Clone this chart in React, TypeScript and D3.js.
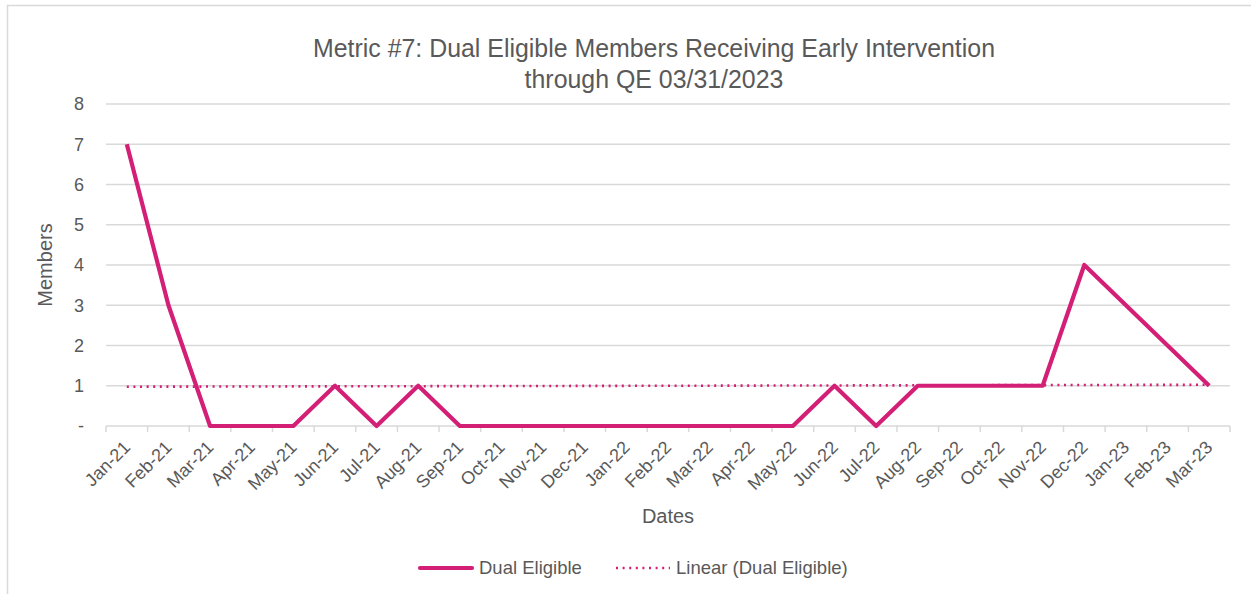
import React from 'react';
import * as d3 from 'd3';

// Monthly counts
const months = [
  'Jan-21', 'Feb-21', 'Mar-21', 'Apr-21', 'May-21', 'Jun-21', 'Jul-21', 'Aug-21', 'Sep-21',
  'Oct-21', 'Nov-21', 'Dec-21', 'Jan-22', 'Feb-22', 'Mar-22', 'Apr-22', 'May-22', 'Jun-22',
  'Jul-22', 'Aug-22', 'Sep-22', 'Oct-22', 'Nov-22', 'Dec-22', 'Jan-23', 'Feb-23', 'Mar-23',
];
const dualEligible = [7, 3, 0, 0, 0, 1, 0, 1, 0, 0, 0, 0, 0, 0, 0, 0, 0, 1, 0, 1, 1, 1, 1, 4, 3, 2, 1];
const yTicks = [0, 1, 2, 3, 4, 5, 6, 7, 8];

const titleLines = ['Metric #7: Dual Eligible Members Receiving Early Intervention', 'through QE 03/31/2023'];

const PINK = '#d41f76';
const GRID = '#d9d9d9';
const TEXT = '#595959';
const FONT = '"Liberation Sans", Arial, sans-serif';

const W = 1251;
const H = 594;
const margin = { top: 104, right: 21, bottom: 168, left: 106 };

// least-squares trend over the category index, like Excel's linear trendline
function linearFit(ys: number[]) {
  const n = ys.length;
  const mx = d3.mean(ys.map((_, i) => i)) as number;
  const my = d3.mean(ys) as number;
  let sxy = 0;
  let sxx = 0;
  ys.forEach((y, i) => {
    sxy += (i - mx) * (y - my);
    sxx += (i - mx) * (i - mx);
  });
  const slope = sxy / sxx;
  return [0, n - 1].map((i) => ({ i, v: my + slope * (i - mx) }));
}

export default function App() {
  const innerW = W - margin.left - margin.right;
  const innerH = H - margin.top - margin.bottom;

  const x = d3.scaleBand<string>().domain(months).range([0, innerW]);
  const y = d3.scaleLinear().domain([0, 8]).range([innerH, 0]);
  const cx = (m: string) => (x(m) as number) + x.bandwidth() / 2;

  const line = d3
    .line<number>()
    .x((_, i) => cx(months[i]))
    .y((d) => y(d));

  const trend = linearFit(dualEligible);
  const trendPath = d3
    .line<{ i: number; v: number }>()
    .x((d) => cx(months[d.i]))
    .y((d) => y(d.v))(trend);

  const boundaries = months.map((m) => x(m) as number).concat([innerW]);

  return (
    <svg width={W} height={H} style={{ position: 'absolute', left: 0, top: 0, fontFamily: FONT }}>
      <rect x={0} y={0} width={W} height={H} fill="#fff" />
      <rect x={7.5} y={5.5} width={W + 10} height={H + 10} fill="none" stroke={GRID} strokeWidth={1.5} />

      <text textAnchor="middle" fill={TEXT} fontSize={24.9}>
        {titleLines.map((t, i) => (
          <tspan key={i} x={654} y={57 + i * 31}>
            {t}
          </tspan>
        ))}
      </text>

      <g transform={`translate(${margin.left},${margin.top})`}>
        {yTicks.map((t) => (
          <g key={t}>
            <line x1={0} x2={innerW} y1={y(t)} y2={y(t)} stroke={GRID} strokeWidth={1.5} />
            <text x={-22} y={y(t)} dy="0.35em" textAnchor="end" fill={TEXT} fontSize={18}>
              {t === 0 ? '-' : t}
            </text>
          </g>
        ))}

        {boundaries.map((b, i) => (
          <line key={i} x1={b} x2={b} y1={innerH} y2={innerH + 6} stroke={GRID} strokeWidth={1.5} />
        ))}

        {months.map((m) => (
          <text
            key={m}
            transform={`translate(${cx(m)},${innerH + 18}) rotate(-45)`}
            textAnchor="end"
            dy="0.35em"
            fill={TEXT}
            fontSize={18}
          >
            {m}
          </text>
        ))}

        <path d={trendPath as string} fill="none" stroke={PINK} strokeWidth={2.6} strokeDasharray="2 4.6" />
        <path d={line(dualEligible) as string} fill="none" stroke={PINK} strokeWidth={4.2} strokeLinejoin="round" />
      </g>

      <text x={668} y={523} textAnchor="middle" fill={TEXT} fontSize={20}>
        Dates
      </text>
      <text transform="translate(52,265) rotate(-90)" textAnchor="middle" fill={TEXT} fontSize={20}>
        Members
      </text>

      <g fontSize={18.5} fill={TEXT}>
        <line x1={420} x2={472} y1={568} y2={568} stroke={PINK} strokeWidth={4.2} strokeLinecap="round" />
        <text x={479} y={568} dy="0.35em" fill={TEXT}>
          Dual Eligible
        </text>
        <line x1={616} x2={670} y1={568} y2={568} stroke={PINK} strokeWidth={2.6} strokeDasharray="2 4.6" />
        <text x={676} y={568} dy="0.35em" fill={TEXT}>
          Linear (Dual Eligible)
        </text>
      </g>
    </svg>
  );
}
